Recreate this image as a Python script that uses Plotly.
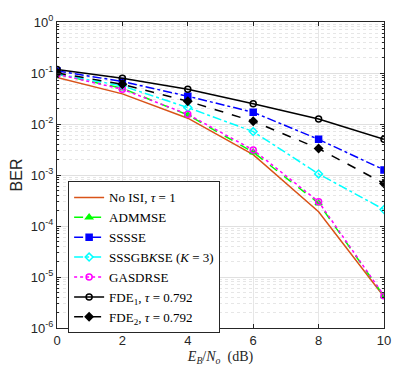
import plotly.graph_objects as go

snr_db = [0, 2, 4, 6, 8, 10]

ber_no_isi = [0.082, 0.039, 0.013, 0.0025, 0.00019, 4.1e-6]
ber_admmse = [0.095, 0.050, 0.0150, 0.0028, 0.00028, 4.2e-6]
ber_sssse = [0.110, 0.068, 0.035, 0.017, 0.0050, 0.00126]
ber_sssgbkse = [0.095, 0.056, 0.021, 0.0071, 0.00105, 0.00021]
ber_gasdrse = [0.095, 0.048, 0.0155, 0.0031, 0.00030, 4.3e-6]
ber_fde1 = [0.117, 0.079, 0.048, 0.025, 0.0125, 0.0050]
ber_fde2 = [0.100, 0.060, 0.028, 0.0113, 0.0033, 0.00068]

y_tick_exp = [0, -1, -2, -3, -4, -5, -6]
x_ticks = [0, 2, 4, 6, 8, 10]

fig = go.Figure()

#name, data, color, dash, marker symbol
series = [
    ("No ISI, <i>τ</i> = 1", ber_no_isi, "#D95319", "solid", None),
    ("ADMMSE", ber_admmse, "#00FF00", "dash", "triangle-up"),
    ("SSSSE", ber_sssse, "#0000FF", "dashdot", "square"),
    ("SSSGB<i>K</i>SE (<i>K</i> = 3)", ber_sssgbkse, "#00FFFF", "dashdot", "diamond-open"),
    ("GASDRSE", ber_gasdrse, "#FF00FF", "dot", "circle-open"),
    ("FDE<sub>1</sub>, <i>τ</i> = 0.792", ber_fde1, "#000000", "solid", "circle-open"),
    ("FDE<sub>2</sub>, <i>τ</i> = 0.792", ber_fde2, "#000000", "dash", "diamond"),
]

for name, vals, color, dash, symbol in series:
    fig.add_trace(
        go.Scatter(
            x=snr_db,
            y=vals,
            name=name,
            mode="lines+markers" if symbol else "lines",
            line=dict(color=color, width=1.5, dash=dash),
            marker=dict(symbol=symbol or "circle", size=6, color=color,
                        line=dict(color=color, width=1.5)),
        )
    )

axis_font = dict(family="Liberation Sans, Arial, sans-serif", size=13, color="#262626")

fig.update_xaxes(
    range=[0, 10],
    tickvals=x_ticks,
    ticks="inside",
    ticklen=4,
    tickcolor="#262626",
    showline=True,
    linecolor="#262626",
    linewidth=1,
    mirror="ticks",
    showgrid=True,
    gridcolor="#e6e6e6",
    zeroline=False,
    tickfont=axis_font,
    ticklabeloverflow="allow",
    title=dict(
        text="<i>E<sub>B</sub></i>/<i>N<sub>o</sub></i>  (dB)",
        font=dict(family="Liberation Serif, serif", size=14, color="#262626"),
        standoff=4,
    ),
)

fig.update_yaxes(
    type="log",
    range=[-6, 0],
    tickvals=[10 ** e for e in y_tick_exp],
    ticktext=[f"10<sup>{e}</sup>" for e in y_tick_exp],
    ticks="inside",
    ticklen=4,
    tickcolor="#262626",
    showline=True,
    linecolor="#262626",
    linewidth=1,
    mirror="ticks",
    showgrid=True,
    gridcolor="#e0e0e0",
    zeroline=False,
    tickfont=axis_font,
    ticklabeloverflow="allow",
    minor=dict(
        tickvals=[m * 10 ** e for e in range(-6, 0) for m in range(2, 10)],
        ticks="inside",
        ticklen=2,
        tickcolor="#262626",
        showgrid=True,
        gridcolor="#e6e6e6",
        griddash="dot",
    ),
    title=dict(
        text="BER",
        font=dict(family="Liberation Sans, Arial, sans-serif", size=16, color="#262626"),
        standoff=4,
    ),
)

# the page adds an 8px body margin, so the figure is 8px smaller each way
fig.update_layout(
    width=399,
    height=368,
    margin=dict(l=49, r=23, t=5, b=48),
    plot_bgcolor="white",
    paper_bgcolor="white",
    showlegend=True,
    legend=dict(
        x=0.034,
        y=0.479,
        xanchor="left",
        yanchor="top",
        bgcolor="white",
        bordercolor="#262626",
        borderwidth=1,
        font=dict(family="Liberation Serif, serif", size=13, color="#000000"),
        tracegroupgap=0,
        itemwidth=30,
    ),
)

fig.write_html("out.html")
